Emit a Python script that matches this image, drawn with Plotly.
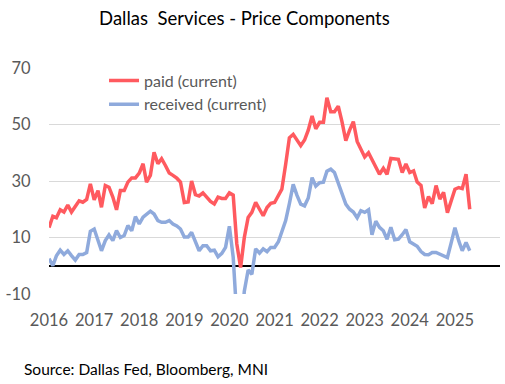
import pandas as pd
import plotly.graph_objects as go

months = pd.date_range("2016-01-01", periods=113, freq="MS")

paid = [13.5, 17.5, 17.0, 19.8, 19.0, 21.5, 19.0, 21.0, 23.0, 22.5,
        23.5, 29.0, 23.3, 26.6, 20.7, 28.4, 27.8, 24.3, 19.8, 26.6,
        26.6, 29.6, 31.1, 31.1, 32.8, 36.1, 29.6, 32.0, 40.2, 36.1,
        37.9, 35.5, 32.8, 32.0, 31.0, 29.6, 22.4, 22.6, 30.0, 25.2,
        24.7, 25.8, 24.3, 22.8, 21.9, 24.3, 23.8, 23.8, 25.8, 25.0,
        7.8, -0.6, 10.0, 17.1, 18.9, 22.4, 20.0, 17.7, 20.6, 22.1,
        22.4, 24.7, 27.1, 35.9, 45.3, 46.5, 44.5, 42.5, 44.5, 48.0,
        53.0, 48.5, 50.8, 50.8, 59.5, 54.5, 54.5, 56.5, 51.0, 44.3,
        48.0, 51.0, 44.0, 41.0, 38.5, 40.0, 37.7, 35.3, 32.4, 34.5,
        32.4, 38.0, 38.0, 37.7, 33.0, 36.0, 33.0, 33.6, 29.6, 28.4,
        20.5, 24.5, 22.0, 28.4, 23.6, 26.0, 18.8, 23.4, 27.1, 27.7,
        27.3, 32.4, 20.0]

received = [2.5, 0.0, 3.5, 5.5, 4.0, 5.3, 3.6, 2.0, 4.0, 4.0,
            4.7, 12.2, 13.0, 8.9, 5.3, 8.9, 10.9, 8.9, 12.4, 10.0,
            10.7, 14.2, 12.4, 17.4, 14.8, 17.2, 18.3, 19.3, 18.3, 16.0,
            15.4, 15.4, 16.0, 14.8, 14.1, 13.0, 10.2, 10.2, 11.8, 8.8,
            5.3, 7.1, 7.1, 5.3, 5.5, 3.2, 4.4, 6.5, 14.0, 3.0,
            -18.0, -25.0, -9.0, -1.5, -3.0, 6.0, 4.5, 6.0, 5.0, 6.5,
            6.5, 8.5, 12.0, 16.0, 22.0, 28.8, 25.0, 21.8, 21.2, 24.0,
            31.2, 28.2, 29.4, 29.6, 33.5, 34.2, 33.0, 29.5, 25.5, 21.8,
            20.0, 19.0, 17.0, 19.5, 18.9, 19.8, 11.0, 15.8, 13.6, 12.4,
            9.4, 13.6, 9.2, 9.4, 11.0, 12.8, 8.5, 7.5, 6.9, 5.0,
            4.0, 3.9, 4.7, 4.7, 4.1, 3.8, 2.9, 8.0, 13.5, 8.8,
            5.3, 8.2, 5.3]

year_ticks = [f"{y}-01-01" for y in range(2016, 2026)]
year_labels = [str(y) for y in range(2016, 2026)]
y_ticks = [-10, 10, 30, 50, 70]
y_labels = ["-10", "10", "30", "50", "70"]

FONT = "Lato"
GREY = "#595959"

fig = go.Figure()
fig.add_trace(go.Scatter(x=months, y=paid, mode="lines", name="paid (current)",
                         legendgroup="a",
                         line=dict(color="#FF5A5F", width=3.5)))
fig.add_trace(go.Scatter(x=months, y=received, mode="lines", name="received (current)",
                         legendgroup="b",
                         line=dict(color="#8FAADC", width=3.5)))

fig.update_layout(
    width=505, height=384,
    margin=dict(l=42, r=5, t=68, b=90),
    paper_bgcolor="white", plot_bgcolor="white",
    font=dict(family=FONT, color=GREY, size=16),
    title=dict(text="Dallas\u00a0 Services - Price Components",
               x=0.484, xanchor="center", xref="container",
               y=1 - 19 / 384, yanchor="middle", yref="container",
               font=dict(family=FONT, color="black", size=18.5)),
    showlegend=True,
    legend=dict(x=0.122, xanchor="left", y=1.02, yanchor="top",
                bgcolor="rgba(0,0,0,0)", borderwidth=0,
                font=dict(family=FONT, color=GREY, size=16),
                traceorder="grouped", tracegroupgap=0),
    xaxis=dict(type="date", range=["2016-01-01", "2026-01-01"],
               tickvals=year_ticks, ticktext=year_labels,
               showgrid=False, zeroline=False, showline=False,
               ticks="outside", ticklen=11, tickcolor="rgba(0,0,0,0)",
               tickfont=dict(family=FONT, color=GREY, size=16.5)),
    yaxis=dict(range=[-10, 70], tickvals=y_ticks, ticktext=y_labels,
               showgrid=True, gridcolor="#D9D9D9", gridwidth=1,
               zeroline=True, zerolinecolor="black", zerolinewidth=2,
               showline=False,
               ticks="outside", ticklen=14, tickcolor="rgba(0,0,0,0)",
               tickfont=dict(family=FONT, color=GREY, size=16.5)),
    annotations=[dict(text="Source: Dallas Fed, Bloomberg, MNI",
                      xref="paper", yref="paper",
                      x=(15 - 42) / 458, xanchor="left",
                      y=-(369 - 294) / 226, yanchor="middle",
                      showarrow=False,
                      font=dict(family=FONT, color="black", size=15.5))],
)

fig.write_html("out.html",
               config={"displayModeBar": False},
               post_script="document.body.style.margin='0';document.body.style.padding='0';")
